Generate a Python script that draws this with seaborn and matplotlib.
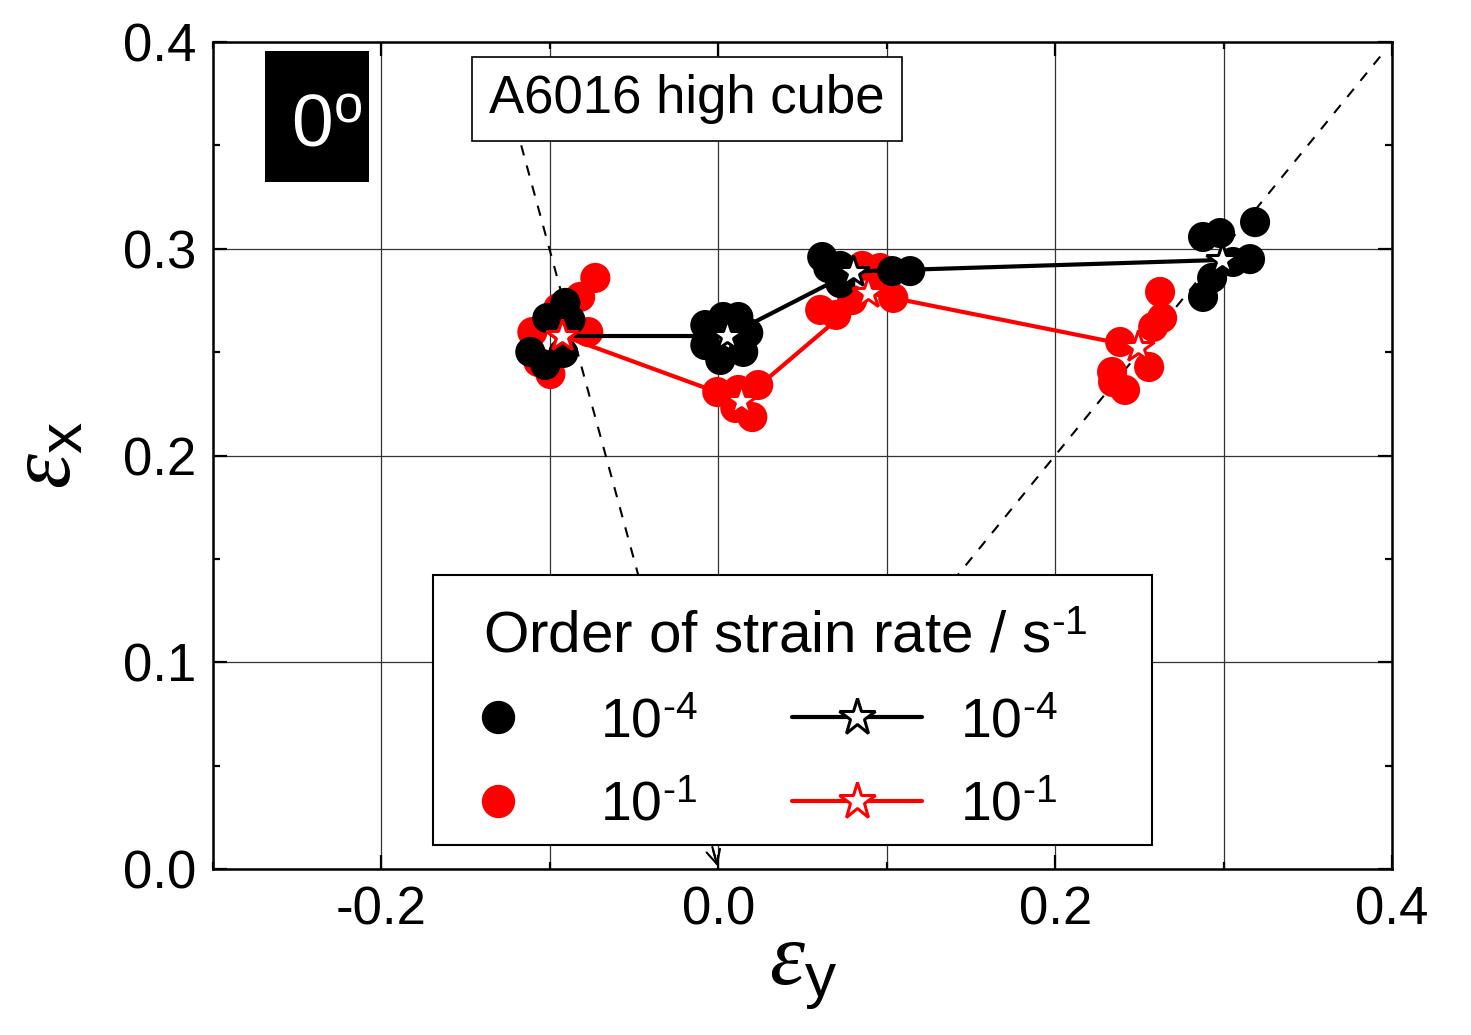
import numpy as np
import pandas as pd
import matplotlib
matplotlib.use("Agg")
import matplotlib.pyplot as plt
import seaborn as sns
from matplotlib.lines import Line2D
from matplotlib.patches import Rectangle
from matplotlib.legend_handler import HandlerLine2D
from matplotlib.ticker import MultipleLocator

# measured strains (eps_y, eps_x), strain rate 1e-4
slow_ey = [-0.1116, -0.1015, -0.0908, -0.0878, -0.1027, -0.0920,
           -0.0077, 0.0119, 0.0178, 0.0148, 0.0012, -0.0077, 0.0030,
           0.0617, 0.0653, 0.0724, 0.0724, 0.1033, 0.1139,
           0.2878, 0.2979, 0.3187, 0.3157, 0.3056, 0.2932, 0.2878]
slow_ex = [0.2501, 0.2665, 0.2738, 0.2655, 0.2438, 0.2496,
           0.2631, 0.2670, 0.2593, 0.2501, 0.2462, 0.2534, 0.2670,
           0.2960, 0.2907, 0.2917, 0.2834, 0.2892, 0.2892,
           0.3057, 0.3076, 0.3129, 0.2950, 0.2936, 0.2859, 0.2767]

# strain rate 1e-1
fast_ey = [-0.0730, -0.0820, -0.1104, -0.0772, -0.0997, -0.1068, -0.0950,
           -0.0006, 0.0119, 0.0237, 0.0202, 0.0101,
           0.0605, 0.0700, 0.0795, 0.0855, 0.0961, 0.1039, 0.0991,
           0.2623, 0.2635, 0.2582, 0.2386, 0.2558, 0.2338, 0.2344, 0.2415]
fast_ex = [0.2859, 0.2767, 0.2597, 0.2597, 0.2394, 0.2452, 0.2713,
           0.2307, 0.2317, 0.2341, 0.2186, 0.2230,
           0.2704, 0.2680, 0.2752, 0.2917, 0.2907, 0.2762, 0.2839,
           0.2791, 0.2665, 0.2622, 0.2549, 0.2428, 0.2404, 0.2355, 0.2317]

# averages per loading path
slow_mean_ey = [-0.0926, 0.0053, 0.0800, 0.2990]
slow_mean_ex = [0.2578, 0.2578, 0.2890, 0.2946]
fast_mean_ey = [-0.0926, 0.0136, 0.0890, 0.2490]
fast_mean_ex = [0.2580, 0.2264, 0.2786, 0.2525]

# guide lines
uni_ey = [-0.117, 0.0]
uni_ex = [0.350, 0.0]
equi_ey = [0.10, 0.395]
equi_ex = [0.10, 0.395]

colors = {"1e-4": "black", "1e-1": "red"}
legend_title = r"Order of strain rate / s$^{\text{-1}}$"
rate_labels = [r"10$^{\text{-4}}$", r"10$^{\text{-1}}$"]

dots = pd.concat([
    pd.DataFrame({"ey": fast_ey, "ex": fast_ex, "rate": "1e-1"}),
    pd.DataFrame({"ey": slow_ey, "ex": slow_ex, "rate": "1e-4"}),
])
means = {
    "1e-4": pd.DataFrame({"ey": slow_mean_ey, "ex": slow_mean_ex}),
    "1e-1": pd.DataFrame({"ey": fast_mean_ey, "ex": fast_mean_ex}),
}

sns.set_theme(style="ticks")
plt.rcParams["font.family"] = ["Liberation Sans", "DejaVu Sans"]
plt.rcParams["mathtext.fontset"] = "custom"
plt.rcParams["mathtext.rm"] = "Liberation Sans"
plt.rcParams["mathtext.it"] = "Liberation Serif:italic"
plt.rcParams["axes.unicode_minus"] = False
for k in ["text.color", "axes.labelcolor", "xtick.color", "ytick.color", "axes.edgecolor"]:
    plt.rcParams[k] = "black"

fig = plt.figure(figsize=(14.71, 10.35), dpi=100)
ax = fig.add_axes([0.1448, 0.1604, 0.8015, 0.7990])

# guide lines
ax.plot(uni_ey, uni_ex, color="black", lw=1.5, dashes=(5, 5), zorder=1)
ax.annotate("", xy=(uni_ey[1], uni_ex[1]), xytext=(uni_ey[1] - 0.004, uni_ex[1] + 0.012),
            arrowprops=dict(arrowstyle="->", color="black", lw=1.5, mutation_scale=25),
            zorder=1)
ax.plot(equi_ey, equi_ex, color="black", lw=1.5, dashes=(5, 5), zorder=1)

sns.scatterplot(data=dots, x="ey", y="ex", hue="rate", palette=colors,
                s=470, edgecolor="none", legend=False, ax=ax, zorder=3)

for r in ["1e-4", "1e-1"]:
    sns.lineplot(data=means[r], x="ey", y="ex", sort=False, estimator=None,
                 color=colors[r], lw=3, marker="*", markersize=24,
                 markerfacecolor="white", markeredgecolor=colors[r],
                 markeredgewidth=2.2, ax=ax, zorder=4)

ax.set_xlim(-0.3, 0.4)
ax.set_ylim(0.0, 0.4)
ax.xaxis.set_major_locator(MultipleLocator(0.2))
ax.xaxis.set_minor_locator(MultipleLocator(0.1))
ax.yaxis.set_major_locator(MultipleLocator(0.1))
ax.yaxis.set_minor_locator(MultipleLocator(0.05))
ax.set_xticklabels([f"{v:.1f}" for v in ax.get_xticks()])
ax.set_yticklabels([f"{v:.1f}" for v in ax.get_yticks()])
ax.tick_params(which="both", direction="in", top=True, right=True,
               width=1.6, color="black", labelsize=38, pad=12)
ax.tick_params(which="major", length=10)
ax.tick_params(which="minor", length=5)
ax.grid(which="major", axis="both", color="0.2", lw=0.9)
ax.grid(which="minor", axis="x", color="0.2", lw=0.9)
for sp in ax.spines.values():
    sp.set_color("black")
    sp.set_linewidth(1.8)

ax.set_xlabel(r"$\varepsilon_{\mathrm{y}}$", fontsize=64, labelpad=-6)
ax.set_ylabel(r"$\varepsilon_{\mathrm{x}}$", fontsize=64, labelpad=24)

ax.text(0.402, 0.931, "A6016 high cube", transform=ax.transAxes, fontsize=38,
        ha="center", va="center", zorder=6,
        bbox=dict(boxstyle="square,pad=0.32", facecolor="white", edgecolor="black", lw=1.2))
ax.add_patch(Rectangle((0.0441, 0.8307), 0.0882, 0.1584, transform=ax.transAxes,
                       facecolor="black", edgecolor="none", zorder=6))
ax.text(0.0965, 0.898, r"0$^{\mathrm{o}}$", transform=ax.transAxes, fontsize=54,
        color="white", ha="center", va="center", zorder=7)

# legend frame drawn separately so its padding can match the original
ax.add_patch(Rectangle((0.1866, 0.029), 0.6098, 0.3265, transform=ax.transAxes,
                       facecolor="white", edgecolor="black", lw=1.5, zorder=8))

common = dict(borderaxespad=0, fontsize=40, frameon=False, labelspacing=0.57, borderpad=0)

# left column (with the title): scatter points
h_dot_k = Line2D([], [], ls="none", marker="o", markersize=23, color="black")
h_dot_r = Line2D([], [], ls="none", marker="o", markersize=23, color="red")
leg1 = ax.legend([h_dot_k, h_dot_r], rate_labels, loc="upper left",
                 bbox_to_anchor=(0.229, 0.312), title=legend_title, title_fontsize=42,
                 alignment="left", handlelength=1.0, handletextpad=1.1,
                 handler_map={Line2D: HandlerLine2D(numpoints=1, xpad=-0.47)}, **common)
leg1.set_zorder(9)
ax.add_artist(leg1)

# right column: averaged paths, bottom aligned with the left column
fig.canvas.draw()
leg1_bottom = ax.transAxes.inverted().transform(
    leg1.get_window_extent(fig.canvas.get_renderer()))[0, 1]
h_star_k = Line2D([], [], color="black", lw=3, marker="*", markersize=28,
                  markerfacecolor="white", markeredgecolor="black", markeredgewidth=2.2)
h_star_r = Line2D([], [], color="red", lw=3, marker="*", markersize=28,
                  markerfacecolor="white", markeredgecolor="red", markeredgewidth=2.2)
leg2 = ax.legend([h_star_k, h_star_r], rate_labels, loc="lower left",
                 bbox_to_anchor=(0.491, leg1_bottom),
                 handlelength=2.35, handletextpad=0.68, **common)
leg2.set_zorder(9)

fig.savefig("out.png", dpi=100)
